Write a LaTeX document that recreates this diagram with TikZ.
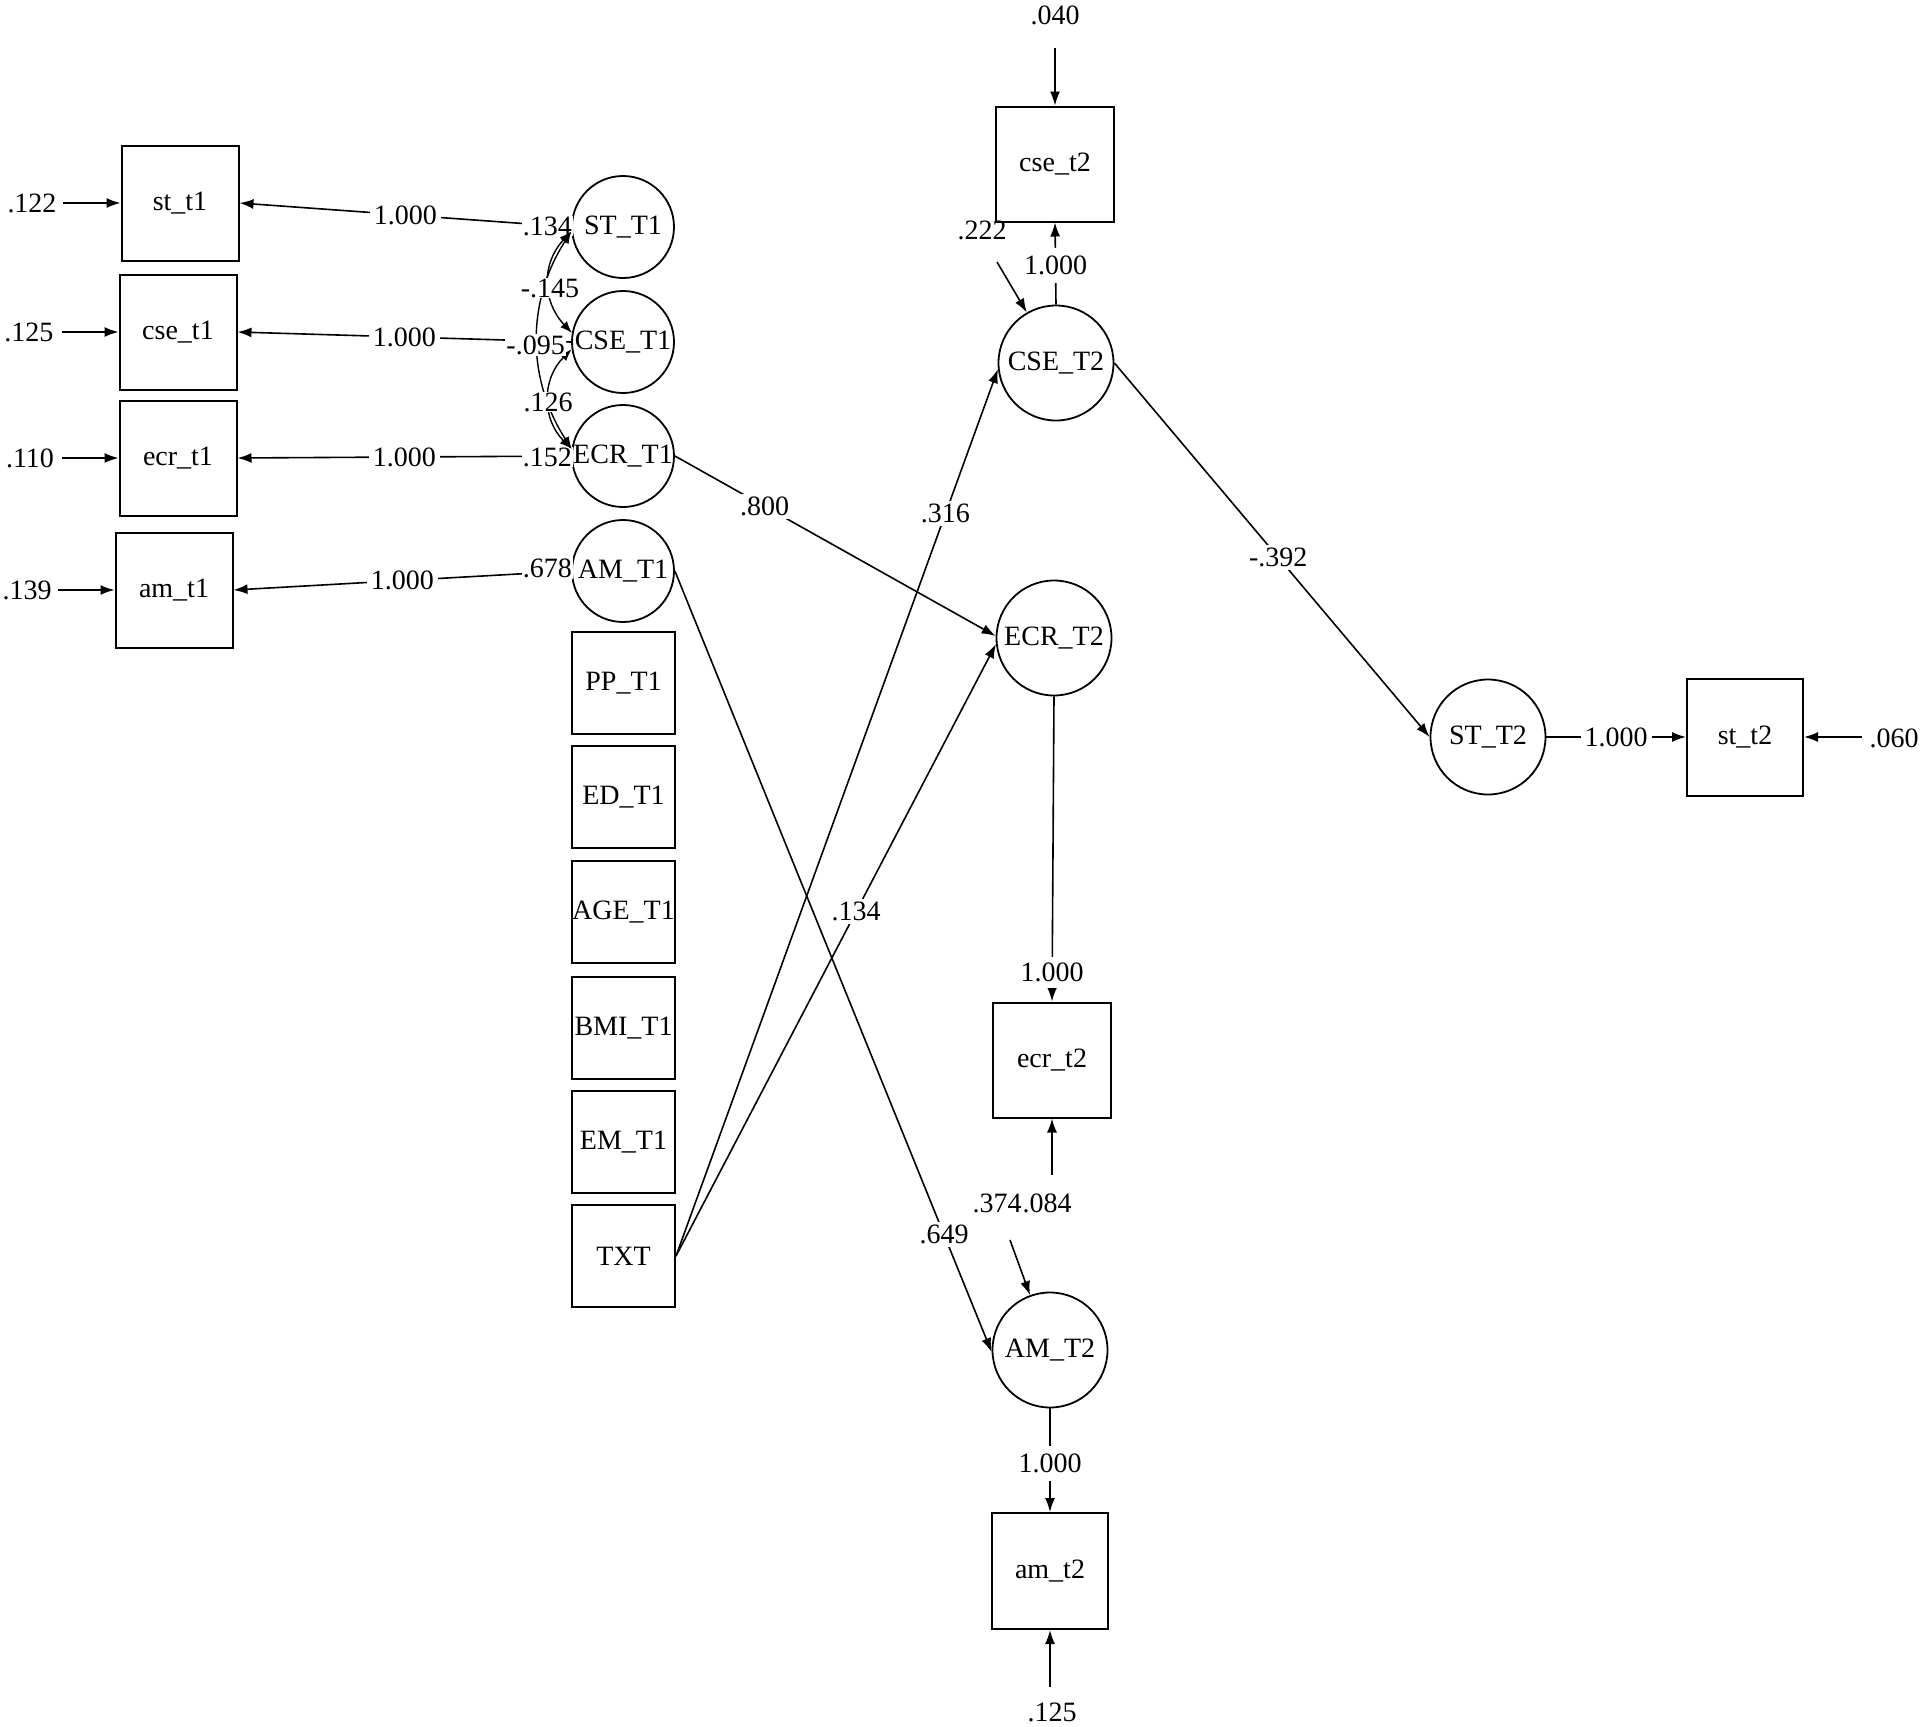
\documentclass[tikz,border=0pt]{standalone}
\usepackage{fontspec}
\setmainfont{Liberation Serif}
\usetikzlibrary{arrows.meta}
\begin{document}
\begin{tikzpicture}[x=1pt,y=-1pt,
  every node/.style={font=\fontsize{28}{32}\selectfont, inner sep=0pt},
  box/.style={draw, line width=2pt, minimum width=117pt, minimum height=115pt},
  midbox/.style={draw, line width=2pt, minimum width=103pt, minimum height=102pt},
  lat1/.style={draw, circle, line width=1.8pt, minimum size=102pt},
  lat2/.style={draw, circle, line width=1.8pt, minimum size=115pt},
  arr/.style={line width=1.6pt, -{Latex[length=14pt,width=10pt]}},
  cov/.style={line width=1.4pt, {Latex[length=12pt,width=9pt]}-{Latex[length=12pt,width=9pt]}},
  lbl/.style={fill=white, inner xsep=4pt, inner ysep=3pt},
  vlbl/.style={fill=white, inner xsep=4pt, inner ysep=8pt},
  varlbl/.style={fill=white, inner xsep=1pt, inner ysep=1pt},
]
\useasboundingbox (0,0) rectangle (1920,1727);

% ---- T1 indicators ----
\node[box] (st1) at (180,203) {st\_t1};
\node[box] (cse1) at (178,332) {cse\_t1};
\node[box] (ecr1) at (178,458) {ecr\_t1};
\node[box] (am1) at (174,590) {am\_t1};

% ---- T1 latent ----
\node[lat1] (ST1) at (623,227) {ST\_T1};
\node[lat1] (CSE1) at (623,342) {CSE\_T1};
\node[lat1] (ECR1) at (623,456) {ECR\_T1};
\node[lat1] (AM1) at (623,571) {AM\_T1};

% ---- covariates ----
\node[midbox] (PP) at (623.5,683) {PP\_T1};
\node[midbox] (ED) at (623.5,797) {ED\_T1};
\node[midbox] (AGE) at (623.5,912) {AGE\_T1};
\node[midbox] (BMI) at (623.5,1028) {BMI\_T1};
\node[midbox] (EM) at (623.5,1142) {EM\_T1};
\node[midbox] (TXT) at (623.5,1256) {TXT};

% ---- T2 ----
\node[box, minimum width=118pt] (cse2) at (1055,164) {cse\_t2};
\node[lat2] (CSE2) at (1056,363) {CSE\_T2};
\node[lat2] (ECR2) at (1054,638) {ECR\_T2};
\node[box, minimum width=118pt] (ecr2) at (1052,1060) {ecr\_t2};
\node[lat2] (AM2) at (1050,1350) {AM\_T2};
\node[box, minimum width=116pt, minimum height=116pt] (am2) at (1050,1571) {am\_t2};
\node[lat2] (ST2) at (1488,737) {ST\_T2};
\node[box, minimum width=116pt, minimum height=117pt] (st2) at (1745,737) {st\_t2};

% ---- T1 residuals ----
\node (e122) at (32,203) {.122};
\node (e125) at (29,332) {.125};
\node (e110) at (30,458) {.110};
\node (e139) at (27,590) {.139};
\coordinate (r122) at (63,203);
\coordinate (r125) at (62,332);
\coordinate (r110) at (62,458);
\coordinate (r139) at (58,590);
\draw[arr] (r122) -- (st1.west);
\draw[arr] (r125) -- (cse1.west);
\draw[arr] (r110) -- (ecr1.west);
\draw[arr] (r139) -- (am1.west);

% ---- T1 loadings ----
\draw[arr] (ST1.west) -- node[lbl,pos=0.5]{1.000} (st1.east);
\draw[arr] (CSE1.west) -- node[lbl,pos=0.5]{1.000} (cse1.east);
\draw[arr] (ECR1.west) -- node[lbl,pos=0.5]{1.000} (ecr1.east);
\draw[arr] (AM1.west) -- node[lbl,pos=0.5]{1.000} (am1.east);

% ---- T1 factor variances ----
\node[varlbl, anchor=east] (v134) at (573,226) {.134};
\node[varlbl, anchor=east] (v152) at (573,457) {.152};
\node[varlbl, anchor=east] (v678) at (573,568) {.678};

% ---- T1 covariances ----
\draw[cov] (ST1.185) .. controls +(-30,32) and +(-30,-32) .. (CSE1.170);
\draw[cov] (CSE1.188) .. controls +(-30,30) and +(-30,-30) .. (ECR1.172);
\draw[cov] (ST1.185) .. controls +(-45,70) and +(-45,-70) .. (ECR1.172);
\node[fill=white, inner sep=1pt] (c145) at (550,288) {-.145};
\node[fill=white, inner sep=1pt] (c126) at (548,402) {.126};
\node[varlbl, anchor=east] (v095) at (566,345) {-.095};

% ---- structural paths ----
\draw[arr] (ECR1.east) -- node[lbl,pos=0.28]{.800} (ECR2.178);
\draw[arr] (TXT.east) -- node[lbl,pos=0.837]{.316} (CSE2.186);
\draw[arr] (TXT.east) -- node[lbl,pos=0.563]{.134} (ECR2.186);
\draw[arr] (AM1.east) -- node[lbl,pos=0.85]{.649} (AM2.182);
\draw[arr] (CSE2.east) -- node[lbl,pos=0.52]{-.392} (ST2.west);

% ---- T2 loadings ----
\draw[arr] (CSE2.north) -- node[vlbl,pos=0.48]{1.000} (cse2.south);
\draw[arr] (ECR2.south) -- node[fill=white, inner xsep=4pt, inner ysep=6pt,pos=0.905]{1.000} (ecr2.north);
\draw[arr] (AM2.south) -- node[vlbl,pos=0.53]{1.000} (am2.north);
\draw[arr] (ST2.east) -- node[lbl,pos=0.5]{1.000} (st2.west);

% ---- T2 residuals ----
\node (e040) at (1055,15) {.040};
\coordinate (r040) at (1055,48);
\draw[arr] (r040) -- (cse2.north);
\node (e222) at (982,230) {.222};
\coordinate (r222) at (997,262);
\draw[arr] (r222) -- (CSE2.120);
\node (e374) at (997,1203) {.374};
\coordinate (r374) at (1010,1240);
\draw[arr] (r374) -- (AM2.110);
\node (e084) at (1047,1203) {.084};
\coordinate (r084) at (1052,1175);
\draw[arr] (r084) -- (ecr2.south);
\node (e125b) at (1052,1712) {.125};
\coordinate (r125b) at (1050,1687);
\draw[arr] (r125b) -- (am2.south);
\node (e060) at (1894,738) {.060};
\coordinate (r060) at (1862,737);
\draw[arr] (r060) -- (st2.east);
\end{tikzpicture}
\end{document}
